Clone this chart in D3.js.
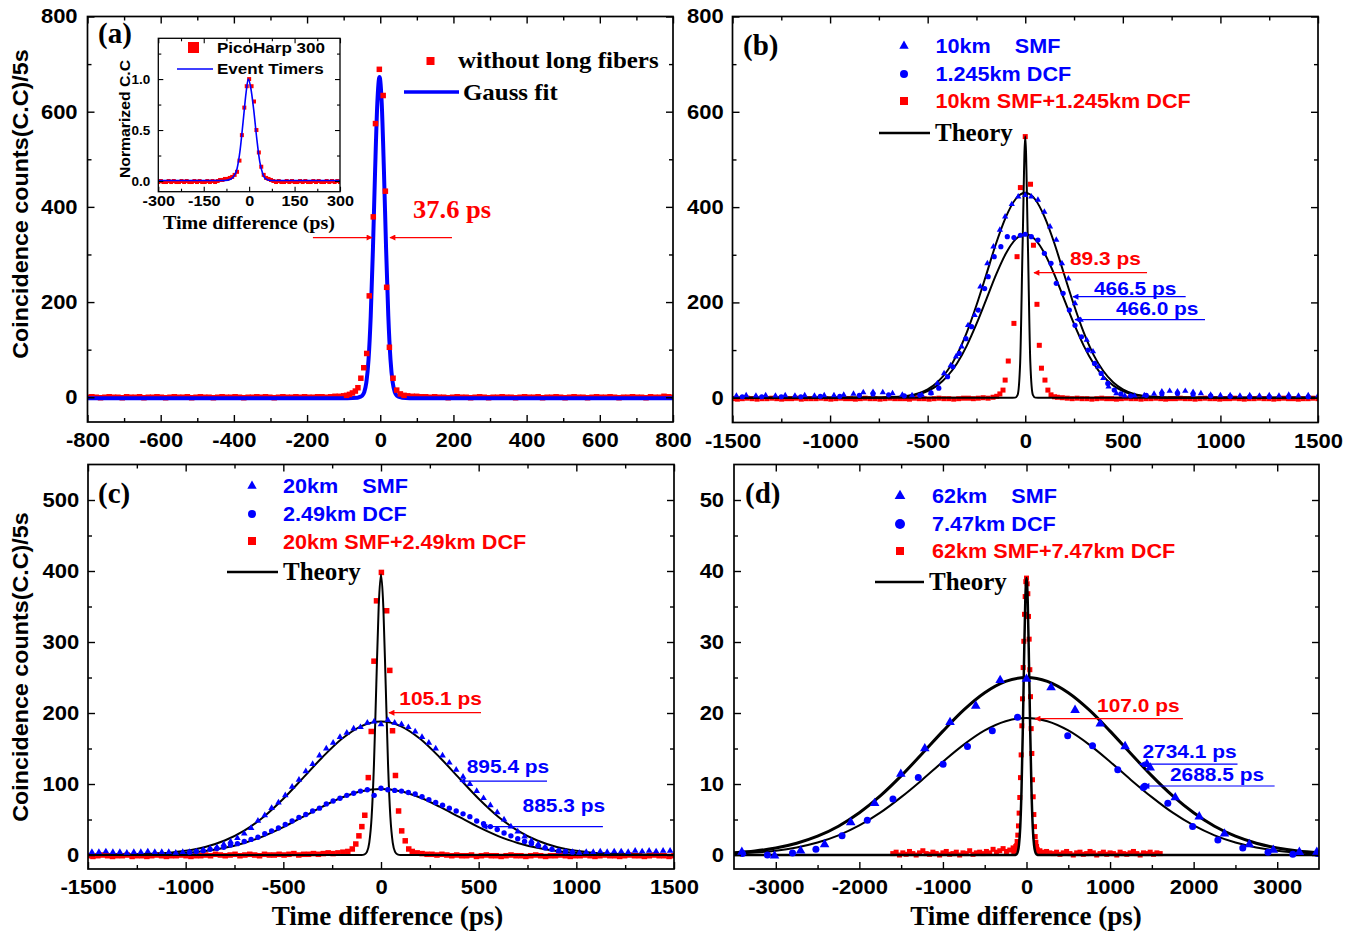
<!DOCTYPE html>
<html>
<head>
<meta charset="utf-8">
<script src="https://cdnjs.cloudflare.com/ajax/libs/d3/7.8.5/d3.min.js"></script>
<style>
  body { margin: 0; background: #fff; }
  svg { display: block; }
</style>
</head>
<body>
<svg id="fig" width="1365" height="939"></svg>
<script>
// Coincidence histograms: (a) no fiber, (b)-(d) SMF / DCF / SMF+DCF with theory curves

var RED = '#ff0000',
    BLUE = '#0000ff',
    SANS = '"Liberation Sans", Arial, Helvetica, sans-serif',
    SERIF = '"Liberation Serif", "Times New Roman", Times, serif';

/**
 * Tick values
 */
var aXTicks = [-800, -600, -400, -200, 0, 200, 400, 600, 800];
var aXMinor = [-700, -500, -300, -100, 100, 300, 500, 700];
var abYTicks = [0, 200, 400, 600, 800];
var abYMinor = [100, 300, 500, 700];
var bcXTicks = [-1500, -1000, -500, 0, 500, 1000, 1500];
var bcXMinor = [-1250, -750, -250, 250, 750, 1250];
var cYTicks = [0, 100, 200, 300, 400, 500];
var cYMinor = [50, 150, 250, 350, 450];
var dXTicks = [-3000, -2000, -1000, 0, 1000, 2000, 3000];
var dXMinor = [-2500, -1500, -500, 500, 1500, 2500];
var dYTicks = [0, 10, 20, 30, 40, 50];
var dYMinor = [5, 15, 25, 35, 45];
var insXTicks = [-300, -150, 0, 150, 300];
var insXMinor = [-225, -75, 75, 225];
var insYTicks = [0, 0.5, 1.0];
var insYMinor = [0.25, 0.75, 1.25];

/**
 * (a) without long fibers  [time ps, counts]
 */
var aRedPeak = [[-92,4],[-84,6],[-76,9],[-68,13],[-61,20],[-53,40],[-45,62],[-37,92],[-30,213],[-19,379],
  [-13,575],[-2.5,689],[8,634],[14,433],[17.5,231],[25,105],[35,40],[45,15],[55,7],[65,4]];
// baseline counts, evenly spread over the bins given to bins()
var aRedBaseL = [0,1,0,-1,0,1,0,0,-1,1,0,0,1,-1,0,0,1,0,-1,0,1,0,0,1,-1,0,1,0,0,-1,
  0,1,0,0,1,0,-1,0,0,1,0,1,0,-1,0,1,0,0,1,0,1,0,0,1,1,0,1,2,2,3];
var aRedBaseR = [3,2,2,1,1,0,1,0,0,-1,0,1,0,0,-1,0,1,0,-1,0,0,1,0,0,-1,0,1,0,0,1,
  -1,0,0,1,0,-1,0,1,0,0,-1,0,1,0,0,1,0,-1,0,0,1,0,0,-1,1,0,0,2,1,0];
var aGauss = [[-800,-2],[-90,-2],[-62,-1],[-56,0.6],[-50,2.8],[-44,10.2],[-38,30.9],[-32,79],[-26,171],[-20,311],
  [-14,478],[-8,618],[-2,673],[4,618],[10,478],[16,311],[22,171],[28,79],[34,30.9],[40,10.2],[46,2.8],
  [52,0.6],[60,-1],[80,-2],[800,-2]];

// inset (normalized)
var insRedPeak = [[-96,0.01],[-88,0.01],[-80,0.02],[-72,0.02],[-64,0.03],[-56,0.04],[-48,0.06],[-40,0.09],
  [-32,0.2],[-24,0.45],[-16,0.72],[-8,0.93],[0,1.0],[8,0.93],[16,0.78],[24,0.5],[32,0.28],[40,0.14],
  [48,0.06],[56,0.03],[64,0.02],[72,0.01]];
var insRedBaseL = [-0.01,0,-0.01,-0.01,0,-0.01,0,-0.01,-0.01,0,-0.01,0,-0.01,-0.01,0,-0.01,0,-0.01,-0.01,0,-0.01,0,-0.01,0];
var insRedBaseR = [0,-0.01,0,-0.01,-0.01,0,-0.01,0,-0.01,-0.01,0,-0.01,0,-0.01,-0.01,0,-0.01,0,-0.01,-0.01,0,-0.01,0,-0.01,0,-0.01];
var insBlue = [[-300,0.005],[-80,0.005],[-60,0.02],[-50,0.05],[-40,0.12],[-30,0.3],[-20,0.58],[-10,0.87],
  [-3,1.0],[5,0.92],[15,0.7],[25,0.42],[35,0.19],[45,0.07],[55,0.02],[70,0.005],[300,0.005]];

/**
 * (b) 10km SMF / 1.245km DCF / both
 */
var bSmf = [[-1480,4],[-1430,5],[-1380,4],[-1330,5],[-1280,4],[-1230,5],[-1180,4],[-1130,5],[-1080,4],[-1030,5],
  [-980,5],[-930,6],[-880,8],[-830,11],[-780,12],[-730,11],[-680,9],[-630,6],[-580,5],[-530,6],
  [-483,10],[-450,30],[-416,51],[-382,68],[-355,86],[-326,107],[-293,152],[-259,173],[-230,233],[-194,282],
  [-163,317],[-130,352],[-103,380],[-69,406],[-36,422],[0,425],[31,422],[65,415],[98,390],[127,359],
  [159,331],[188,282],[221,250],[255,198],[284,163],[315,121],[347,97],[373,65],[400,41],[427,23],[467,9],
  [510,4],[560,4],[610,5],[660,8],[700,13],[740,14],[780,13],[820,14],[860,12],[900,9],[950,6],[1000,5],
  [1050,5],[1100,4],[1150,5],[1200,4],[1250,5],[1300,4],[1350,6],[1400,4],[1450,5],[1500,4]];
var bDcf = [[-1450,2],[-1350,2],[-1250,2],[-1150,2],[-1050,3],[-950,3],[-850,5],[-780,8],[-700,6],[-620,4],[-540,5],
  [-483,10],[-443,20],[-398,44],[-371,65],[-338,93],[-304,124],[-275,149],[-241,184],[-208,229],[-190,254],
  [-159,296],[-125,317],[-92,338],[-58,336],[-25,341],[0,343],[31,338],[65,331],[98,303],[132,282],[159,240],
  [194,219],[226,184],[255,152],[288,128],[322,100],[355,72],[389,51],[423,30],[456,16],[490,8],
  [540,4],[620,5],[700,8],[780,9],[860,7],[950,4],[1050,3],[1150,2],[1250,2],[1350,2],[1450,2]];
var bRedPeak = [[-146,3],[-130,8],[-114,16],[-103,37],[-87,77],[-58,156],[-42,296],[-25,441],[0,548],[27,448],
  [42,320],[60,196],[72,110],[83,62],[101,37],[116,16],[132,6],[150,2]];
var bRedBaseL = [-2,-3,-2,-1,-2,-3,-2,-2,-1,-2,-3,-2,-2,-1,-3,-2,-2,-2,-1,-2,-3,-2,-1,-2,-2,-3,-2,
  -1,-2,-2,-3,-2,-1,-2,-2,-2,-3,-1,-2,-2,-3,-2,-1,-2,-2,-3,-2,-1,-1,-2,-1,0,-1,1];
var bRedBaseR = [1,0,-1,-2,-1,-2,-2,-3,-2,-1,-2,-2,-3,-2,-1,-2,-2,-3,-2,-2,-1,-2,-3,-2,-2,-1,-2,
  -2,-3,-2,-1,-2,-2,-3,-2,-2,-1,-2,-3,-2,-2,-1,-2,-2,-3,-2,-1,-2,-2,-3,-2,-2,-1,-2];
var bTheoryWide = [[-1500,0],[-750,0.3],[-700,0.8],[-650,2],[-600,4.4],[-550,9.1],[-500,17.7],[-450,32.5],
  [-400,56],[-350,90],[-300,136.5],[-250,194],[-200,258],[-150,323],[-100,378.5],[-50,416.5],[0,430],
  [50,416.5],[100,378.5],[150,323],[200,258],[250,194],[300,136.5],[350,90],[400,56],[450,32.5],
  [500,17.7],[550,9.1],[600,4.4],[650,2],[700,0.8],[750,0.3],[1500,0]];
var bTheoryMid = [[-1500,0],[-750,0.2],[-700,0.6],[-650,1.6],[-600,3.5],[-550,7.3],[-500,14.1],[-450,25.9],
  [-400,44.7],[-350,71.8],[-300,108.9],[-250,154.8],[-200,205.8],[-150,257.7],[-100,302],[-50,332.3],[0,343],
  [50,332.3],[100,302],[150,257.7],[200,205.8],[250,154.8],[300,108.9],[350,71.8],[400,44.7],[450,25.9],
  [500,14.1],[550,7.3],[600,3.5],[650,1.6],[700,0.6],[750,0.2],[1500,0]];
var bTheoryNarrow = [[-1500,0],[-65,0],[-52,0.2],[-39,6.1],[-26,74],[-13,333],[0,548],[13,333],[26,74],
  [39,6.1],[52,0.2],[65,0],[1500,0]];

/**
 * (c) 20km SMF / 2.49km DCF / both
 */
// peak region counts on 35 ps bins from -980 to 980
var cSmfPeak = [4,5,7,9,11,15,19,24,30,38,48,56,66,74,84,96,106,118,128,140,150,158,166,172,178,180,186,188,
  184,190,186,184,180,174,166,158,150,140,130,120,110,100,90,80,70,60,50,40,33,26,20,15,11,8,5,4,4];
var cDcfPeak = [4,5,6,8,9,11,14,16,19,22,25,30,34,38,43,48,53,57,62,66,72,76,80,84,87,90,92,84,
  94,92,91,90,88,86,82,78,74,70,66,62,58,54,48,44,40,36,31,27,23,19,16,13,10,8,6,5,4];
var cSmfBaseL = [4,4,5,4,4,3,4,4,5,4,4,4,3,4];
var cSmfBaseR = [3,4,4,5,4,5,5,4,6,5,6,5,6,6];
var cRedPeak = [[-147,8.5],[-129,15.5],[-113,27],[-98,40],[-83,56],[-65,109],[-50,174],[-36,273],[-23,358],
  [2,398],[29,344],[45,260],[59,175],[74,112],[90,62],[106,34],[124,20],[142,8.5]];
var cRedBaseL = [-1,-2,-1,0,-1,-2,-1,-1,0,-2,-1,-1,-2,-1,0,-1,-2,-1,-1,0,-1,-2,-1,-1,0,-1,1,0,-1,0,1,
  -1,0,1,0,-1,1,0,0,1,0,1,2,0,1,1,2,1,2,3,2,3,4,5];
var cRedBaseR = [5,3,2,1,1,0,1,0,-1,0,-1,-1,0,-2,-1,0,-1,-1,-2,-1,0,-1,-1,-2,-1,0,-1,-2,-1,-1,0,-1,
  -2,-1,-1,0,-1,-2,-1,0,-1,-1,-2,-1,0,-1,-1,-2,-1,0,-1,-1,-2,-1];
var cTheoryWide = [[-1500,0],[-1400,0.2],[-1300,0.54],[-1200,1.3],[-1100,2.85],[-1000,5.9],[-900,11.4],[-800,20.5],
  [-700,34.4],[-600,54],[-500,79.3],[-400,108.3],[-300,137.7],[-200,163.7],[-100,181.6],[0,188],[100,181.6],
  [200,163.7],[300,137.7],[400,108.3],[500,79.3],[600,54],[700,34.4],[800,20.5],[900,11.4],[1000,5.9],
  [1100,2.85],[1200,1.3],[1300,0.54],[1400,0.2],[1500,0]];
var cTheoryMid = [[-1500,0],[-1400,0.1],[-1300,0.3],[-1200,0.6],[-1100,1.4],[-1000,2.9],[-900,5.6],[-800,10.1],
  [-700,17],[-600,26.7],[-500,39.2],[-400,53.6],[-300,68.1],[-200,81],[-100,89.8],[0,93],[100,89.8],
  [200,81],[300,68.1],[400,53.6],[500,39.2],[600,26.7],[700,17],[800,10.1],[900,5.6],[1000,2.9],
  [1100,1.4],[1200,0.6],[1300,0.3],[1400,0.1],[1500,0]];
var cTheoryNarrow = [[-1500,0],[-100,0],[-84,0.9],[-72,4.4],[-60,17.4],[-48,53.5],[-36,128],[-24,240],[-12,349],
  [0,395],[12,349],[24,240],[36,128],[48,53.5],[60,17.4],[72,4.4],[84,0.9],[100,0],[1500,0]];

/**
 * (d) 62km SMF / 7.47km DCF / both
 */
var dSmf = [[-3406,0.4],[-3015,-0.1],[-2703,0.6],[-2416,1.5],[-2103,4.6],[-1817,7.3],[-1504,11.4],[-1217,15],
  [-915,18.7],[-607,21],[-315,24.6],[0,24.8],[294,23.6],[581,20.4],[883,18.5],[1180,15.3],[1441,12.8],
  [1480,12.3],[1780,8.1],[2067,5.4],[2369,3],[2666,1.5],[2953,0.7],[3265,0.4],[3474,0.4]];
var dDcf = [[-3400,0.2],[-3100,0],[-2800,0.3],[-2520,0.8],[-2207,2.7],[-1905,4.9],[-1598,7.9],[-1295,10.9],
  [-998,12.8],[-706,15.3],[-409,17.5],[-107,19.4],[493,16.8],[790,15.4],[1092,12],[1399,9.5],[1415,9.7],
  [1691,7.3],[1988,4],[2290,2.1],[2588,1],[2890,0.4],[3187,0.1],[3480,0.2]];
var dRedPeak = [[-152,0.5],[-144,0.7],[-136,0.9],[-128,1.2],[-120,1.3],[-112,1.9],[-104,2.8],[-96,4.1],[-88,5.9],
  [-80,8.1],[-72,10.9],[-64,14.1],[-56,18.2],[-48,22],[-40,26.4],[-32,30.1],[-24,33.9],[-16,36.4],[-8,38.5],
  [0,39],[8,38.2],[16,36.8],[24,33.6],[32,30.4],[40,26.1],[48,22.3],[56,17.8],[64,14.3],[72,10.6],[80,8.2],
  [88,5.7],[96,4],[104,2.6],[112,1.8],[120,1.2],[128,0.8],[136,0.5],[144,0.4],[152,0.3]];
var dRedBaseL = [0.2,0.4,0,0.3,0.1,0.5,0.2,0,0.3,0.6,0.2,0.1,0.4,0.2,0,0.3,0.5,0.1,0.2,0.4,0,0.3,0.2,0.6,
  0.1,0.3,0.4,0.2,0.5,0.3,0.8,0.4,0.6,0.9,0.5,0.7,1.0];
var dRedBaseR = [0.6,0.4,0.5,0.3,0.2,0.4,0.1,0.3,0.5,0.2,0,0.3,0.4,0.1,0.2,0.5,0.3,0,0.2,0.4,0.1,0.3,0.2,0,
  0.4,0.2,0.1,0.3,0.5,0.2,0,0.3,0.2,0.4,0.1,0.3,0.2];
var dTheoryWide = [[-3500,0.31],[-3250,0.56],[-3000,0.99],[-2750,1.66],[-2500,2.65],[-2250,4.06],[-2000,5.95],
  [-1750,8.32],[-1500,11.14],[-1250,14.26],[-1000,17.45],[-750,20.43],[-500,22.85],[-250,24.45],[0,25],
  [250,24.45],[500,22.85],[750,20.43],[1000,17.45],[1250,14.26],[1500,11.14],[1750,8.32],[2000,5.95],
  [2250,4.06],[2500,2.65],[2750,1.66],[3000,0.99],[3250,0.56],[3500,0.31]];
var dTheoryMid = [[-3500,0.18],[-3250,0.34],[-3000,0.61],[-2750,1.07],[-2500,1.76],[-2250,2.77],[-2000,4.16],
  [-1750,5.96],[-1500,8.15],[-1250,10.58],[-1000,13.15],[-750,15.55],[-500,17.54],[-250,18.84],[0,19.3],
  [250,18.84],[500,17.54],[750,15.55],[1000,13.15],[1250,10.58],[1500,8.15],[1750,5.96],[2000,4.16],
  [2250,2.77],[2500,1.76],[2750,1.07],[3000,0.61],[3250,0.34],[3500,0.18]];
var dTheoryNarrow = [[-3500,0],[-150,0],[-120,0.1],[-105,0.43],[-90,1.43],[-75,3.9],[-60,9],[-45,17.1],[-30,27],
  [-15,35.6],[0,39],[15,35.6],[30,27],[45,17.1],[60,9],[75,3.9],[90,1.43],[105,0.43],[120,0.1],[150,0],[3500,0]];

// spread a run of bin counts evenly from t0 to t1
function bins(t0, t1, counts) {
  var n = counts.length;
  return counts.map(function (c, i) { return [t0 + (t1 - t0) * i / (n - 1), c]; });
}

var svg = d3.select('#fig');
var defs = svg.append('defs');

[['ahRed', RED], ['ahBlue', BLUE]].forEach(function (m) {
  defs.append('marker')
    .attr('id', m[0])
    .attr('viewBox', '0 0 10 10')
    .attr('refX', 9).attr('refY', 5)
    .attr('markerWidth', 8).attr('markerHeight', 6)
    .attr('markerUnits', 'userSpaceOnUse')
    .attr('orient', 'auto')
    .append('path').attr('d', 'M0,0 L10,5 L0,10 z').attr('fill', m[1]);
});

function label(sel, x, y, s, o) {
  o = o || {};
  return sel.append('text')
    .attr('transform', 'translate(' + x + ',' + y + ')' + (o.rot ? ' rotate(' + o.rot + ')' : '') +
      ' scale(' + (o.sx || 1) + ',1)')
    .attr('font-family', o.serif ? SERIF : SANS)
    .attr('font-weight', o.weight || 'bold')
    .attr('font-size', o.size || 20)
    .attr('fill', o.color || '#000')
    .attr('text-anchor', o.anchor || 'start')
    .attr('xml:space', 'preserve')
    .style('white-space', 'pre')
    .text(s);
}

function makePanel(cfg) {
  var b = cfg.box;
  var x = d3.scaleLinear().domain(cfg.xd).range([b[0], b[2]]);
  var y = d3.scaleLinear().domain(cfg.yd).range([b[3], b[1]]);
  var g = svg.append('g');
  if (cfg.bg) {
    g.append('rect').attr('x', b[0]).attr('y', b[1]).attr('width', b[2] - b[0]).attr('height', b[3] - b[1]).attr('fill', '#fff');
  }
  defs.append('clipPath').attr('id', 'clip-' + cfg.id)
    .append('rect').attr('x', b[0]).attr('y', b[1]).attr('width', b[2] - b[0]).attr('height', b[3] - b[1]);
  var plot = g.append('g').attr('clip-path', 'url(#clip-' + cfg.id + ')');
  return { g: g, plot: plot, x: x, y: y, cfg: cfg };
}

function drawAxes(p) {
  var cfg = p.cfg, b = cfg.box, x = p.x, y = p.y;
  var tl = cfg.tick || 7, tm = cfg.minorTick || 4;
  var fmtX = cfg.fmtX || function (d) { return String(d); };
  var fmtY = cfg.fmtY || function (d) { return String(d); };
  var ax = p.g.append('g');
  function add(axis, tr) { return ax.append('g').attr('transform', tr).call(axis); }

  var bottom = add(d3.axisBottom(x).tickValues(cfg.xt).tickSize(-tl).tickPadding(cfg.padX).tickFormat(fmtX), 'translate(0,' + b[3] + ')');
  add(d3.axisBottom(x).tickValues(cfg.xm).tickSize(-tm).tickFormat(''), 'translate(0,' + b[3] + ')');
  add(d3.axisTop(x).tickValues(cfg.xt).tickSize(-tl).tickFormat(''), 'translate(0,' + b[1] + ')');
  add(d3.axisTop(x).tickValues(cfg.xm).tickSize(-tm).tickFormat(''), 'translate(0,' + b[1] + ')');
  var left = add(d3.axisLeft(y).tickValues(cfg.yt).tickSize(-tl).tickPadding(cfg.padY).tickFormat(fmtY), 'translate(' + b[0] + ',0)');
  add(d3.axisLeft(y).tickValues(cfg.ym).tickSize(-tm).tickFormat(''), 'translate(' + b[0] + ',0)');
  add(d3.axisRight(y).tickValues(cfg.yt).tickSize(-tl).tickFormat(''), 'translate(' + b[2] + ',0)');
  add(d3.axisRight(y).tickValues(cfg.ym).tickSize(-tm).tickFormat(''), 'translate(' + b[2] + ',0)');

  ax.selectAll('.domain').remove();
  ax.selectAll('.tick line').attr('stroke', '#000').attr('stroke-width', cfg.tickW || 1.4);
  ax.selectAll('.tick text')
    .attr('font-family', SANS)
    .attr('font-weight', 'bold')
    .attr('fill', '#000');
  bottom.selectAll('.tick text').attr('font-size', cfg.fs).attr('transform', 'scale(' + cfg.sx + ',1)');
  left.selectAll('.tick text').attr('font-size', cfg.fsY || cfg.fs).attr('transform', 'scale(' + (cfg.sxY || cfg.sx) + ',1)');

  p.g.append('rect')
    .attr('x', b[0]).attr('y', b[1]).attr('width', b[2] - b[0]).attr('height', b[3] - b[1])
    .attr('fill', 'none').attr('stroke', '#000').attr('stroke-width', cfg.frameW || 1.7);
}

function squares(p, data, s, color) {
  p.plot.append('g').selectAll('rect').data(data).join('rect')
    .attr('x', function (d) { return p.x(d[0]) - s / 2; })
    .attr('y', function (d) { return p.y(d[1]) - s / 2; })
    .attr('width', s).attr('height', s)
    .attr('fill', color || RED);
}

function triangles(p, data, size) {
  var sym = d3.symbol(d3.symbolTriangle, size)();
  p.plot.append('g').selectAll('path').data(data).join('path')
    .attr('d', sym)
    .attr('transform', function (d) { return 'translate(' + p.x(d[0]) + ',' + p.y(d[1]) + ')'; })
    .attr('fill', BLUE);
}

function dots(p, data, r) {
  p.plot.append('g').selectAll('circle').data(data).join('circle')
    .attr('cx', function (d) { return p.x(d[0]); })
    .attr('cy', function (d) { return p.y(d[1]); })
    .attr('r', r)
    .attr('fill', BLUE);
}

function curve(p, data, color, w) {
  var line = d3.line()
    .x(function (d) { return p.x(d[0]); })
    .y(function (d) { return p.y(d[1]); })
    .curve(d3.curveMonotoneX);
  p.plot.append('path').datum(data)
    .attr('d', line)
    .attr('fill', 'none')
    .attr('stroke', color)
    .attr('stroke-width', w)
    .attr('stroke-linejoin', 'round');
}

// arrow from a.from to a.to (data coords) and its text at a.at
function note(p, a) {
  p.g.append('line')
    .attr('x1', p.x(a.from[0])).attr('y1', p.y(a.from[1]))
    .attr('x2', p.x(a.to[0])).attr('y2', p.y(a.to[1]))
    .attr('stroke', a.color).attr('stroke-width', 1.2)
    .attr('marker-end', 'url(#' + (a.color === RED ? 'ahRed' : 'ahBlue') + ')');
  if (a.text) {
    label(p.g, p.x(a.at[0]), p.y(a.at[1]), a.text, { color: a.color, size: a.size || 19, sx: a.sx || 1.1, serif: a.serif });
  }
}

function legendRow(g, kind, mx, my, tx, ty, text, o) {
  if (kind === 'tri') {
    g.append('path').attr('d', d3.symbol(d3.symbolTriangle, o.ms)()).attr('transform', 'translate(' + mx + ',' + my + ')').attr('fill', BLUE);
  } else if (kind === 'dot') {
    g.append('circle').attr('cx', mx).attr('cy', my).attr('r', o.ms).attr('fill', BLUE);
  } else if (kind === 'sq') {
    g.append('rect').attr('x', mx - o.ms / 2).attr('y', my - o.ms / 2).attr('width', o.ms).attr('height', o.ms).attr('fill', RED);
  } else if (kind === 'line') {
    g.append('line').attr('x1', mx).attr('x2', o.x2).attr('y1', my).attr('y2', my).attr('stroke', o.lc).attr('stroke-width', o.lw);
  }
  label(g, tx, ty, text, { color: o.color, size: o.size, sx: o.sx, serif: o.serif, weight: o.weight });
}

/**
 * Panel (a)
 */
var pa = makePanel({
  id: 'a', box: [87.5, 16.5, 673, 422], xd: [-800, 800], yd: [-52, 800],
  xt: aXTicks, xm: aXMinor, yt: abYTicks, ym: abYMinor,
  fs: 20, sx: 1.1, padX: 11, padY: 9
});
squares(pa, bins(-800, -100, aRedBaseL), 5.5);
squares(pa, bins(75, 800, aRedBaseR), 5.5);
curve(pa, aGauss, BLUE, 4);
squares(pa, aRedPeak, 5.5);
drawAxes(pa);
label(pa.g, 98, 43, '(a)', { serif: true, size: 29 });
legendRow(pa.g, 'sq', 430.5, 61, 458, 68, 'without long fibers', { ms: 8, serif: true, size: 23.5, sx: 1.06 });
legendRow(pa.g, 'line', 404, 92, 463, 100, 'Gauss fit', { x2: 459, lc: BLUE, lw: 3.5, serif: true, size: 23.5, sx: 1.06 });
note(pa, { from: [-184, 335.6], to: [-22.5, 335.6], color: RED });
note(pa, { from: [196, 335.6], to: [26.6, 335.6], color: RED, text: '37.6 ps', at: [89.5, 376.6], serif: true, size: 26, sx: 1.02 });
label(pa.g, 28, 204, 'Coincidence counts(C.C)/5s', { rot: -90, anchor: 'middle', size: 22, sx: 1.06 });

// inset
var pin = makePanel({
  id: 'in', box: [158.3, 38.3, 340, 191.7], xd: [-300, 300], yd: [-0.105, 1.4], bg: true,
  xt: insXTicks, xm: insXMinor, yt: insYTicks, ym: insYMinor,
  fs: 15, sx: 1.08, fsY: 13.5, sxY: 1.0, padX: 3.5, padY: 8, tick: 5, minorTick: 3, tickW: 1.1, frameW: 1.3,
  fmtY: function (d) { return d.toFixed(1); }
});
squares(pin, bins(-300, -104, insRedBaseL), 4);
squares(pin, bins(80, 300, insRedBaseR), 4);
squares(pin, insRedPeak, 4);
curve(pin, insBlue, BLUE, 1.6);
drawAxes(pin);
legendRow(pin.g, 'sq', 193.5, 47.5, 217, 53, 'PicoHarp 300', { ms: 11, size: 15.5, sx: 1.1 });
legendRow(pin.g, 'line', 177, 69, 217, 74, 'Event Timers', { x2: 213, lc: BLUE, lw: 1.6, size: 15.5, sx: 1.1 });
label(pin.g, 130, 119, 'Normarized C.C', { rot: -90, anchor: 'middle', size: 15, sx: 1.05 });
label(pin.g, 249, 228.5, 'Time difference (ps)', { serif: true, anchor: 'middle', size: 19.5, sx: 1.03 });

/**
 * Panel (b)
 */
var pb = makePanel({
  id: 'b', box: [732.5, 16.5, 1318, 422.5], xd: [-1500, 1500], yd: [-52, 800],
  xt: bcXTicks, xm: bcXMinor, yt: abYTicks, ym: abYMinor,
  fs: 20, sx: 1.1, padX: 11, padY: 8
});
squares(pb, bins(-1500, -165, bRedBaseL), 5);
squares(pb, bins(165, 1500, bRedBaseR), 5);
squares(pb, bRedPeak, 5);
curve(pb, bTheoryWide, '#000', 2);
curve(pb, bTheoryMid, '#000', 2);
curve(pb, bTheoryNarrow, '#000', 2);
triangles(pb, bSmf, 17);
dots(pb, bDcf, 2.6);
drawAxes(pb);
label(pb.g, 743, 55, '(b)', { serif: true, size: 29 });
legendRow(pb.g, 'tri', 904, 46, 935.5, 53, '10km    SMF', { ms: 38, color: BLUE, size: 21, sx: 1.03 });
legendRow(pb.g, 'dot', 904, 74, 935.5, 81, '1.245km DCF', { ms: 4, color: BLUE, size: 21, sx: 1.03 });
legendRow(pb.g, 'sq', 904, 101, 935.5, 108, '10km SMF+1.245km DCF', { ms: 8, color: RED, size: 21, sx: 1.03 });
legendRow(pb.g, 'line', 879, 133, 935, 141, 'Theory', { x2: 930, lc: '#000', lw: 2.5, serif: true, size: 25 });
note(pb, { from: [624, 262.4], to: [44.8, 262.4], color: RED, text: '89.3 ps', at: [229, 278.5] });
note(pb, { from: [822, 212], to: [244.7, 212], color: BLUE, text: '466.5 ps', at: [352, 215.2] });
note(pb, { from: [921, 163.9], to: [255, 163.9], color: BLUE, text: '466.0 ps', at: [465, 173.4] });

/**
 * Panel (c)
 */
var pc = makePanel({
  id: 'c', box: [88, 464.5, 674, 869], xd: [-1500, 1500], yd: [-19.7, 550],
  xt: bcXTicks, xm: bcXMinor, yt: cYTicks, ym: cYMinor,
  fs: 20, sx: 1.1, padX: 11, padY: 8
});
squares(pc, bins(-1500, -170, cRedBaseL), 5.5);
squares(pc, bins(160, 1500, cRedBaseR), 5.5);
squares(pc, cRedPeak, 5.5);
curve(pc, cTheoryWide, '#000', 2);
curve(pc, cTheoryMid, '#000', 2);
curve(pc, cTheoryNarrow, '#000', 2);
triangles(pc, bins(-1480, -1015, cSmfBaseL), 19);
triangles(pc, bins(1015, 1480, cSmfBaseR), 19);
triangles(pc, bins(-980, 980, cSmfPeak), 19);
dots(pc, bins(-980, 980, cDcfPeak), 2.7);
drawAxes(pc);
label(pc.g, 98, 503, '(c)', { serif: true, size: 29 });
legendRow(pc.g, 'tri', 252, 486, 283, 493, '20km    SMF', { ms: 38, color: BLUE, size: 21, sx: 1.03 });
legendRow(pc.g, 'dot', 252, 514, 283, 521, '2.49km DCF', { ms: 4, color: BLUE, size: 21, sx: 1.03 });
legendRow(pc.g, 'sq', 252, 541, 283, 549, '20km SMF+2.49km DCF', { ms: 8, color: RED, size: 21, sx: 1.03 });
legendRow(pc.g, 'line', 227, 572, 283, 580, 'Theory', { x2: 278, lc: '#000', lw: 2.5, serif: true, size: 25 });
note(pc, { from: [512, 200.4], to: [41, 200.4], color: RED, text: '105.1 ps', at: [94, 211.3] });
note(pc, { from: [850, 104.2], to: [404, 104.2], color: BLUE, text: '895.4 ps', at: [439, 115.5] });
note(pc, { from: [1136, 39.9], to: [517, 39.9], color: BLUE, text: '885.3 ps', at: [725, 60.6] });
label(pc.g, 28, 667, 'Coincidence counts(C.C)/5s', { rot: -90, anchor: 'middle', size: 22, sx: 1.06 });
label(pc.g, 387.5, 925, 'Time difference (ps)', { serif: true, anchor: 'middle', size: 27 });

/**
 * Panel (d)
 */
var pd = makePanel({
  id: 'd', box: [734, 464.5, 1319, 869], xd: [-3500, 3500], yd: [-1.97, 55],
  xt: dXTicks, xm: dXMinor, yt: dYTicks, ym: dYMinor,
  fs: 20, sx: 1.1, padX: 11, padY: 9
});
squares(pd, bins(-1600, -160, dRedBaseL), 5);
squares(pd, bins(160, 1600, dRedBaseR), 5);
squares(pd, dRedPeak, 5);
curve(pd, dTheoryWide, '#000', 3);
curve(pd, dTheoryMid, '#000', 2);
curve(pd, dTheoryNarrow, '#000', 2.5);
triangles(pd, dSmf, 40);
dots(pd, dDcf, 3.5);
drawAxes(pd);
label(pd.g, 745, 503, '(d)', { serif: true, size: 29 });
legendRow(pd.g, 'tri', 900, 496, 932, 503, '62km    SMF', { ms: 50, color: BLUE, size: 21, sx: 1.03 });
legendRow(pd.g, 'dot', 900, 524, 932, 531, '7.47km DCF', { ms: 5, color: BLUE, size: 21, sx: 1.03 });
legendRow(pd.g, 'sq', 900, 551, 932, 558, '62km SMF+7.47km DCF', { ms: 8, color: RED, size: 21, sx: 1.03 });
legendRow(pd.g, 'line', 875, 582, 929, 590, 'Theory', { x2: 924, lc: '#000', lw: 2.5, serif: true, size: 25 });
note(pd, { from: [1872, 19.2], to: [102, 19.2], color: RED, text: '107.0 ps', at: [844, 20.2] });
note(pd, { from: [2525, 12.8], to: [1352, 12.8], color: BLUE, text: '2734.1 ps', at: [1388, 13.66] });
note(pd, { from: [2969, 9.72], to: [1406, 9.72], color: BLUE, text: '2688.5 ps', at: [1717, 10.46] });
label(pd.g, 1026, 925, 'Time difference (ps)', { serif: true, anchor: 'middle', size: 27 });
</script>
</body>
</html>
